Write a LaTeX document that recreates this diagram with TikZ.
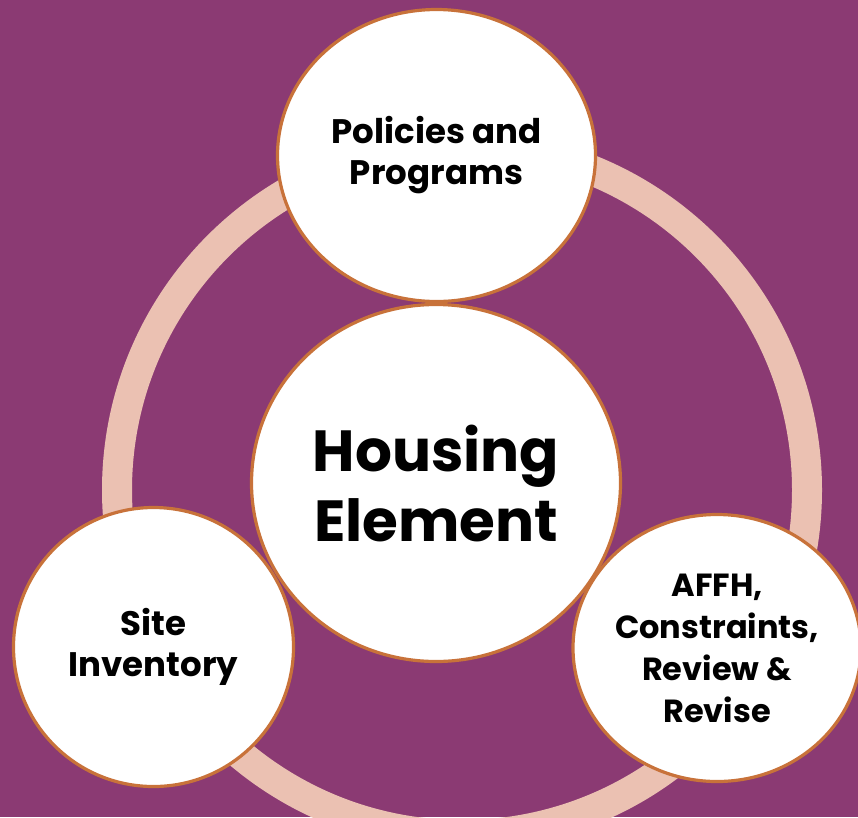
\documentclass[tikz,border=0pt]{standalone}
\usepackage{fontspec}
\setmainfont{Poppins}
\usetikzlibrary{shapes.geometric}
\definecolor{bgpurple}{RGB}{139,58,115}
\definecolor{ringpeach}{RGB}{235,193,178}
\definecolor{rimorange}{RGB}{200,114,58}
\begin{document}
\begin{tikzpicture}[x=1pt,y=-1pt,
  bubble/.style={ellipse, draw=rimorange, line width=3.2pt, fill=white, inner sep=-40pt, align=center},
  smalltext/.style={font=\fontsize{34}{41}\selectfont\bfseries},
  sidetext/.style={font=\fontsize{32}{42}\selectfont\bfseries},
  bigtext/.style={font=\fontsize{58}{70}\selectfont\bfseries}]
\fill[bgpurple] (0,0) rectangle (858,817);
\useasboundingbox (0,0) rectangle (858,817);
\begin{scope}
\clip (0,0) rectangle (858,817);
\draw[ringpeach, line width=30pt] (462,490) circle[radius=345pt];
\node[bubble, bigtext, minimum width=369pt, minimum height=357pt] (center) at (436,483) {Housing\\Element};
\node[bubble, smalltext, minimum width=318pt, minimum height=292pt] (top) at (436.5,155.5) {Policies and\\Programs};
\node[bubble, smalltext, minimum width=280pt, minimum height=279pt] (left) at (153.5,647) {Site\\Inventory};
\node[bubble, sidetext, minimum width=288pt, minimum height=267pt] (right) at (717,648) {AFFH,\\Constraints,\\Review \&\\Revise};
\end{scope}
\end{tikzpicture}
\end{document}
